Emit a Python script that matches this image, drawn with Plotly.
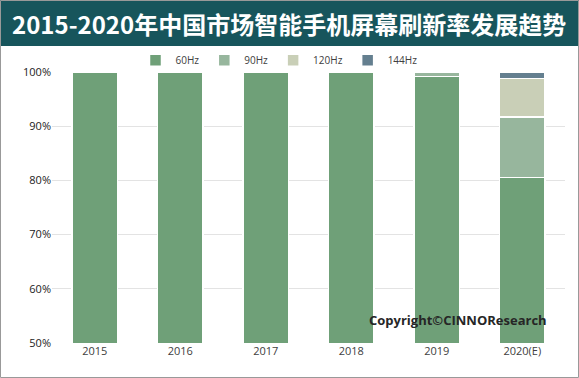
import plotly.graph_objects as go

years = ["2015", "2016", "2017", "2018", "2019", "2020(E)"]
hz60 = [100, 100, 100, 100, 99.2, 80.5]
hz90 = [0, 0, 0, 0, 0.8, 11.2]
hz120 = [0, 0, 0, 0, 0, 7.1]
hz144 = [0, 0, 0, 0, 0, 1.2]
series = [("60Hz", hz60, "#6fa078"), ("90Hz", hz90, "#97b69d"),
          ("120Hz", hz120, "#c9cfb7"), ("144Hz", hz144, "#647f8f")]
y_ticks = [50, 60, 70, 80, 90, 100]
y_labels = ["50%", "60%", "70%", "80%", "90%", "100%"]

fig = go.Figure()
for name, vals, col in series:
    fig.add_trace(go.Bar(x=years, y=vals, name=name, marker_color=col,
                         marker_line=dict(color="white", width=1.5), width=0.53))

fig.update_layout(
    barmode="stack", width=579, height=378,
    margin=dict(l=52, r=14, t=72, b=35),
    paper_bgcolor="white", plot_bgcolor="white",
    font=dict(family="Open Sans, Noto Sans", size=11, color="#404040"),
    showlegend=True,
    legend=dict(orientation="h", x=(279-52)/513, xanchor="center", y=0.99, yanchor="bottom",
                font=dict(size=10, color="#404040"), traceorder="normal",
                itemwidth=30, bgcolor="rgba(0,0,0,0)"),
    xaxis=dict(showline=False, ticks="", tickfont=dict(size=11, color="#404040")),
    yaxis=dict(range=[50, 100], tickmode="array", tickvals=y_ticks, ticktext=y_labels,
               showgrid=True, gridcolor="#e3e3e3", gridwidth=1, zeroline=False,
               tickfont=dict(size=11, color="#222222")),
    shapes=[
        dict(type="rect", xref="paper", yref="paper", x0=-52/513, x1=1+14/513,
             y0=1+72/271 - 46/271, y1=1+72/271, fillcolor="#17555c", line_width=0, layer="below"),
        dict(type="rect", xref="paper", yref="paper", x0=-51.5/513, x1=1+13.5/513,
             y0=-34.5/271, y1=1+71.5/271, fillcolor="rgba(0,0,0,0)",
             line=dict(color="#999999", width=1)),
    ],
    annotations=[
        dict(text="<b>2015-2020年中国市场智能手机屏幕刷新率发展趋势</b>", xref="paper", yref="paper",
             x=(289-52)/513, y=1+72/271 - 23/271, xanchor="center", yanchor="middle", showarrow=False,
             font=dict(family="Noto Sans CJK SC", size=24, color="white")),
        dict(text="<b>Copyright©CINNOResearch</b>", xref="paper", yref="paper",
             x=(458-52)/513, y=(343-320)/271, xanchor="center", yanchor="middle", showarrow=False,
             font=dict(family="Open Sans", size=13, color="#262626")),
    ],
)
fig.write_html("out.html")
